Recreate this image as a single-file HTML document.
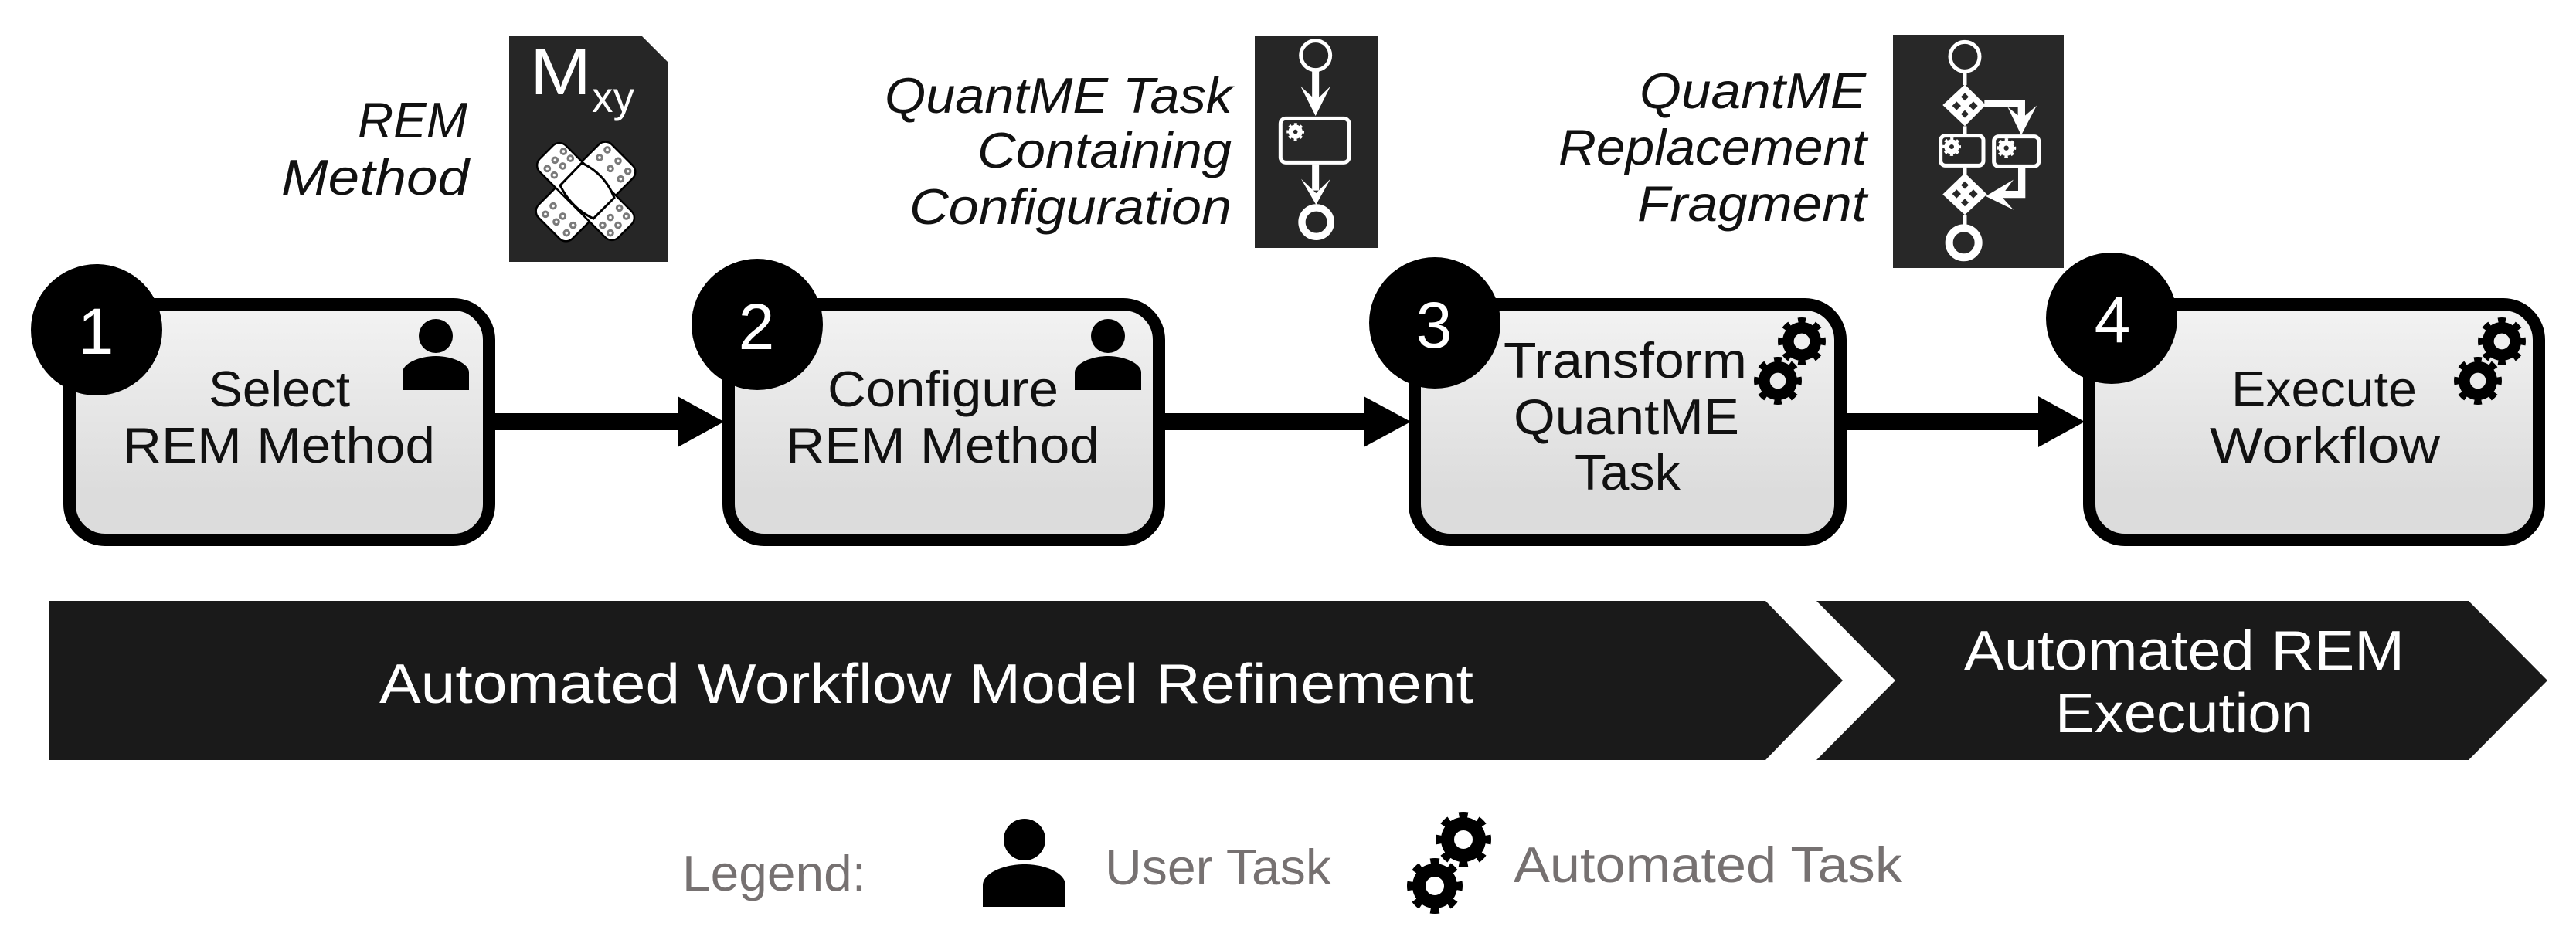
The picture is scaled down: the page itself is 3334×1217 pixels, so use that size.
<!DOCTYPE html>
<html><head><meta charset="utf-8"><title>REM workflow</title>
<style>html,body{margin:0;padding:0;background:#fff}svg{display:block}
text{font-family:"Liberation Sans",sans-serif}</style></head><body>
<svg width="3334" height="1217" viewBox="0 0 3334 1217" xmlns="http://www.w3.org/2000/svg">
<defs>
<linearGradient id="g" x1="0" y1="0" x2="0" y2="1"><stop offset="0" stop-color="#f3f3f3"/><stop offset=".8" stop-color="#dcdcdc"/><stop offset="1" stop-color="#dcdcdc"/></linearGradient>
<g id="gear"><circle r="31" fill="none" stroke="#000" stroke-width="10" pathLength="8" stroke-dasharray=".45 .55" stroke-dashoffset=".225"/><circle r="20.5" fill="none" stroke="#000" stroke-width="17"/></g>
<g id="wgear"><circle r="31" fill="none" stroke="#fff" stroke-width="10" pathLength="8" stroke-dasharray=".5 .5" stroke-dashoffset=".25"/><circle r="19" fill="none" stroke="#fff" stroke-width="20"/></g>
<g id="person"><circle cy="0" r="22"/><path d="M-43,70V47C-43,36-22,26 0,26S43,36 43,47V70Z"/></g>
</defs>
<rect width="3334" height="1217" fill="#fff"/>

<!-- panels -->
<path d="M659,46H830L864,80V339H659Z" fill="#262626"/>
<rect x="1624" y="46" width="159" height="275" fill="#262626"/>
<rect x="2450" y="45" width="221" height="302" fill="#282828"/>

<!-- panel 1 -->
<text x="686" y="122" font-size="84" fill="#fff" textLength="79" lengthAdjust="spacingAndGlyphs">M</text>
<text x="766" y="145" font-size="56" fill="#fff" textLength="55" lengthAdjust="spacingAndGlyphs">xy</text>
<g transform="translate(758,248)" stroke="#000" stroke-width="2.5" fill="#fff">
<rect x="-67" y="-31" width="134" height="62" rx="12" transform="rotate(-45)"/>
<rect x="-72" y="-24" width="144" height="48" rx="12" transform="rotate(45)"/>
<path d="M-5,-37Q25,-23 37,8L10,35Q-19,21 -33,-8Z" stroke-width="3"/>
</g>
<g transform="translate(640,30) scale(.3333)" fill="#fff" stroke="#7a7a7a" stroke-width="9">
<circle cx="268" cy="498" r="10"/><circle cx="235" cy="532" r="10"/><circle cx="295" cy="525" r="10"/><circle cx="265" cy="555" r="10"/><circle cx="205" cy="565" r="10"/><circle cx="232" cy="590" r="10"/>
<circle cx="438" cy="492" r="10"/><circle cx="408" cy="522" r="10"/><circle cx="480" cy="535" r="10"/><circle cx="450" cy="565" r="10"/><circle cx="518" cy="575" r="10"/><circle cx="490" cy="605" r="10"/>
<circle cx="228" cy="710" r="10"/><circle cx="198" cy="742" r="10"/><circle cx="265" cy="750" r="10"/><circle cx="240" cy="772" r="10"/><circle cx="305" cy="785" r="10"/><circle cx="280" cy="815" r="10"/>
<circle cx="485" cy="718" r="10"/><circle cx="512" cy="750" r="10"/><circle cx="450" cy="755" r="10"/><circle cx="480" cy="785" r="10"/><circle cx="420" cy="785" r="10"/><circle cx="450" cy="815" r="10"/>
</g>

<!-- panel 2 -->
<g transform="translate(1610,30) scale(.3333)">
<circle cx="278" cy="125" r="57" fill="none" stroke="#fff" stroke-width="15"/>
<path d="M278,185V310M278,548V650" stroke="#fff" stroke-width="27" fill="none"/>
<path d="M220,245L278,360L336,245L280,300Z M222,605L280,705L336,605L280,660Z" fill="#fff"/>
<rect x="142" y="370" width="266" height="171" rx="20" fill="#282828" stroke="#fff" stroke-width="15"/>
<use href="#wgear" transform="translate(200,422) scale(.95)"/>
<circle cx="281" cy="773" r="56" fill="none" stroke="#fff" stroke-width="28"/>
</g>

<!-- panel 3 -->
<g transform="translate(2430,30) scale(.3333)">
<circle cx="339" cy="130" r="57" fill="none" stroke="#fff" stroke-width="15"/>
<path d="M339,195V240M339,400V430M339,560V590M339,745V790" stroke="#fff" stroke-width="15" fill="none"/>
<path d="M339,238L420,318L339,400L253,318Z M339,582L425,665L339,745L253,665Z" fill="#fff"/>
<g fill="#282828">
<path d="M339,271l15,15l-15,15l-15,-15Z M372,304l17,17l-17,17l-17,-17Z M339,338l15,15l-15,15l-15,-15Z M307,304l17,17l-17,17l-17,-17Z"/>
<path d="M339,614l15,15l-15,15l-15,-15Z M372,646l17,17l-17,17l-17,-17Z M339,682l15,15l-15,15l-15,-15Z M307,646l17,17l-17,17l-17,-17Z"/>
</g>
<rect x="245" y="437" width="166" height="116" rx="18" fill="#282828" stroke="#fff" stroke-width="15"/>
<rect x="452" y="440" width="174" height="116" rx="18" fill="#282828" stroke="#fff" stroke-width="15"/>
<use href="#wgear" transform="translate(288,480) scale(1)"/>
<use href="#wgear" transform="translate(500,485) scale(1.05)"/>
<path d="M415,311H559V400M560,563V665H480" fill="none" stroke="#fff" stroke-width="28"/>
<path d="M505,325L558,435L618,320L560,370Z M528,608L420,672L528,725L480,672Z" fill="#fff"/>
<circle cx="335" cy="853" r="57" fill="none" stroke="#fff" stroke-width="30"/>
</g>

<!-- arrows -->
<g fill="#000">
<rect x="640" y="535" width="240" height="22"/><path d="M877,513L937,546L877,579Z"/>
<rect x="1506" y="535" width="262" height="22"/><path d="M1765,513L1826,546L1765,579Z"/>
<rect x="2388" y="535" width="253" height="22"/><path d="M2638,513L2698,546L2638,579Z"/>
</g>

<!-- boxes -->
<g fill="url(#g)" stroke="#000" stroke-width="16">
<rect x="90" y="394" width="543" height="305" rx="46"/>
<rect x="943" y="394" width="557" height="305" rx="46"/>
<rect x="1831" y="394" width="551" height="305" rx="46"/>
<rect x="2704" y="394" width="582" height="305" rx="46"/>
</g>

<!-- number circles -->
<circle cx="125" cy="427" r="85"/><circle cx="980" cy="420" r="85"/><circle cx="1857" cy="418" r="85"/><circle cx="2733" cy="412" r="85"/>
<g fill="#fff" font-size="84" text-anchor="middle">
<text x="124" y="458">1</text>
<text x="979" y="452">2</text>
<text x="1856" y="450">3</text>
<text x="2734" y="443">4</text>
</g>

<!-- task icons -->
<use href="#person" x="564" y="435"/>
<use href="#person" x="1434" y="435"/>
<use href="#gear" transform="translate(2332,442) scale(.86)"/>
<use href="#gear" transform="translate(2301,493) scale(.86)"/>
<use href="#gear" transform="translate(3238,442) scale(.86)"/>
<use href="#gear" transform="translate(3207,493) scale(.86)"/>

<!-- box text -->
<g fill="#111" font-size="65">
<text x="270" y="526" textLength="183" lengthAdjust="spacingAndGlyphs">Select</text>
<text x="159" y="599" textLength="404" lengthAdjust="spacingAndGlyphs">REM Method</text>
<text x="1071" y="526" textLength="299" lengthAdjust="spacingAndGlyphs">Configure</text>
<text x="1017" y="599" textLength="406" lengthAdjust="spacingAndGlyphs">REM Method</text>
<text x="1946" y="489" textLength="315" lengthAdjust="spacingAndGlyphs">Transform</text>
<text x="1959" y="562" textLength="292" lengthAdjust="spacingAndGlyphs">QuantME</text>
<text x="2038" y="634" textLength="137" lengthAdjust="spacingAndGlyphs">Task</text>
<text x="2888" y="526" textLength="240" lengthAdjust="spacingAndGlyphs">Execute</text>
<text x="2860" y="599" textLength="298" lengthAdjust="spacingAndGlyphs">Workflow</text>
</g>

<!-- italic labels -->
<g fill="#111" font-size="65" font-style="italic">
<text x="463" y="178" textLength="142" lengthAdjust="spacingAndGlyphs">REM</text>
<text x="364" y="252" textLength="243" lengthAdjust="spacingAndGlyphs">Method</text>
<text x="1145" y="146" textLength="450" lengthAdjust="spacingAndGlyphs">QuantME Task</text>
<text x="1265" y="217" textLength="329" lengthAdjust="spacingAndGlyphs">Containing</text>
<text x="1177" y="290" textLength="417" lengthAdjust="spacingAndGlyphs">Configuration</text>
<text x="2122" y="140" textLength="293" lengthAdjust="spacingAndGlyphs">QuantME</text>
<text x="2017" y="213" textLength="399" lengthAdjust="spacingAndGlyphs">Replacement</text>
<text x="2119" y="286" textLength="297" lengthAdjust="spacingAndGlyphs">Fragment</text>
</g>

<!-- chevrons -->
<path d="M64,778H2285L2385,881L2285,984H64Z" fill="#1a1a1a"/>
<path d="M2351,778H3195L3297,881L3195,984H2351L2453,881Z" fill="#1a1a1a"/>
<g fill="#fff" font-size="72">
<text x="491" y="910" textLength="1416" lengthAdjust="spacingAndGlyphs">Automated Workflow Model Refinement</text>
<text x="2542" y="867" textLength="570" lengthAdjust="spacingAndGlyphs">Automated REM</text>
<text x="2660" y="948" textLength="334" lengthAdjust="spacingAndGlyphs">Execution</text>
</g>

<!-- legend -->
<g fill="#767171" font-size="65">
<text x="883" y="1153" textLength="238" lengthAdjust="spacingAndGlyphs">Legend:</text>
<text x="1430" y="1145" textLength="293" lengthAdjust="spacingAndGlyphs">User Task</text>
<text x="1959" y="1142" textLength="503" lengthAdjust="spacingAndGlyphs">Automated Task</text>
</g>
<circle cx="1326" cy="1087" r="27"/>
<path d="M1272,1174V1146C1272,1131 1298,1119 1326,1119S1379,1131 1379,1146V1174Z"/>
<use href="#gear" transform="translate(1894,1087)"/>
<use href="#gear" transform="translate(1857,1147)"/>
</svg>
</body></html>
